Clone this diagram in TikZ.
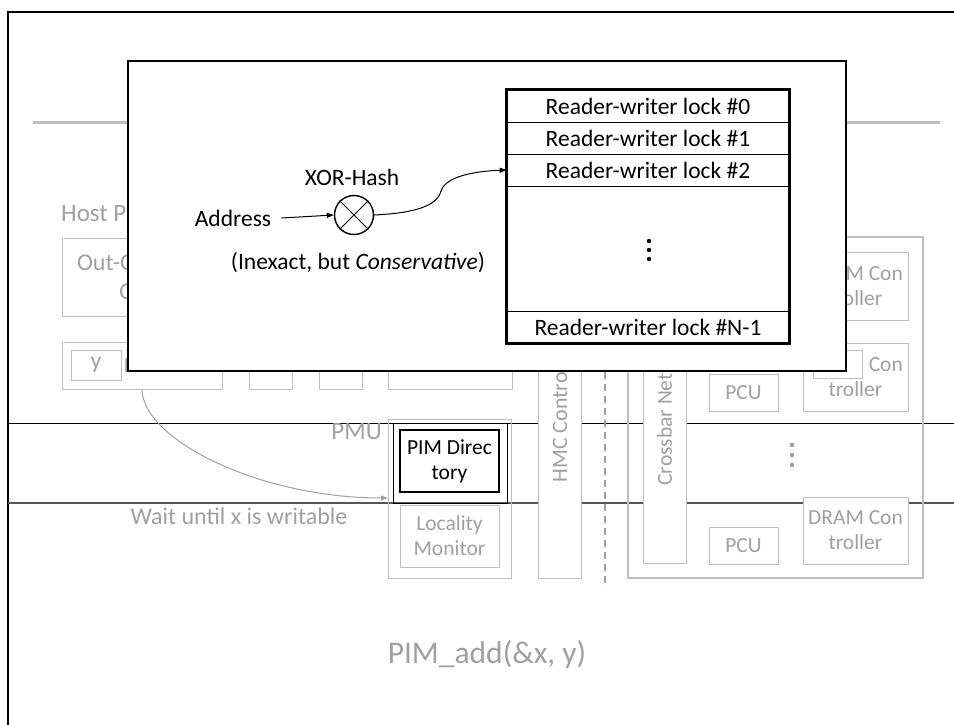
\documentclass[tikz,border=0pt]{standalone}
\usepackage{fontspec}
\setmainfont{Carlito}
\usetikzlibrary{arrows.meta, positioning, calc}
\definecolor{cGrayTxt}{RGB}{160,160,160}
\definecolor{cGrayLn}{RGB}{190,190,190}
\definecolor{cBand}{RGB}{85,85,85}
\tikzset{
	gbox/.style   ={rectangle, draw=cGrayLn, line width=1pt, fill=white, text=cGrayTxt, align=center, inner sep=0pt, font=\fontsize{21.5}{25}\selectfont},
	gtext/.style  ={text=cGrayTxt, inner sep=0pt, align=center, font=\fontsize{24}{29}\selectfont},
	btext/.style  ={text=black, inner sep=0pt, align=center, font=\fontsize{23.5}{28}\selectfont},
	lockrow/.style={rectangle, draw=black, line width=0.8pt, minimum width=282pt, inner sep=0pt, font=\fontsize{23.5}{28}\selectfont},
	xorc/.style   ={circle, draw=black, line width=1.4pt, minimum size=39pt, inner sep=0pt},
	ptr/.style    ={-{Triangle[length=7pt,width=5pt]}, line width=1pt},
}

\begin{document}
\begin{tikzpicture}[x=1pt, y=-1pt]
	\useasboundingbox (0,0) rectangle (954,725);
	% frame and host line
	\draw[line width=1.6pt] (8,725) -- (8,12) -- (954,12);
	\draw[cGrayLn, line width=3pt] (33,122) -- (940,122);
	% host processor (background)
	\node[gtext, anchor=west, font=\fontsize{25}{29}\selectfont] (hostlbl) at (61,214) {Host Processor};
	\node[gbox, minimum width=160pt, minimum height=78pt, font=\fontsize{24}{29}\selectfont] (ooo) at (142,277) {Out-Of-Order\\Core};
	\node[gbox, minimum width=160pt, minimum height=47pt] (hpcu) at (142,365.5) {PCU};
	\node[gbox, minimum width=50pt, minimum height=30pt, font=\fontsize{24}{29}\selectfont] (yreg) at (96,365) {y};
	\node[gbox, minimum width=43pt, minimum height=47pt] (hb1) at (270.5,365.5) {};
	\node[gbox, minimum width=43pt, minimum height=47pt] (hb2) at (340.5,365.5) {};
	\node[gbox, minimum width=124pt, minimum height=47pt] (hb3) at (450,365.5) {};
	% band around the PMU
	\draw[line width=0.8pt] (8,423) -- (954,423);
	\draw[cBand, line width=1.8pt] (8,503) -- (954,503);
	% PMU
	\node[gbox, fill=none, minimum width=123pt, minimum height=159pt] (pmu) at (449.5,498.5) {};
	\draw[line width=0.8pt] (393,423) rectangle (507,503);
	\node[gtext, anchor=east, font=\fontsize{25}{29}\selectfont] (pmulbl) at (382,432) {PMU};
	\node[gbox, draw=black, line width=1.2pt, text=black, minimum width=99pt, minimum height=62pt] (pimdir) at (449.5,461) {PIM Direc\\tory};
	\node[gbox, minimum width=99pt, minimum height=62pt] (locmon) at (449.5,536) {Locality\\Monitor};
	% HMC side
	\node[gbox, minimum width=43pt, minimum height=330pt] (hmc) at (559.5,413) {};
	\node[gtext, rotate=90, font=\fontsize{22}{26}\selectfont] at (hmc.center) {HMC Controller};
	\draw[cGrayTxt, line width=1.2pt, dash pattern=on 7pt off 5pt] (605,240) -- (605,588);
	\node[gbox, fill=none, line width=2pt, minimum width=295pt, minimum height=341pt] (vault) at (775.5,407.5) {};
	\node[gbox, minimum width=43pt, minimum height=311pt] (xbar) at (664.5,407.5) {};
	\node[gtext, rotate=90, font=\fontsize{21.5}{26}\selectfont] at (xbar.center) {Crossbar Network};
	\node[gbox, minimum width=69pt, minimum height=37pt] (pcua) at (743.5,392.5) {PCU};
	\node[gbox, minimum width=69pt, minimum height=37pt] (pcub) at (743.5,545.5) {PCU};
	\node[gbox, minimum width=105pt, minimum height=68pt] (drama) at (855.5,286) {DRAM Con\\troller};
	\node[gbox, minimum width=105pt, minimum height=68pt] (dramb) at (855.5,377) {DRAM Con\\troller};
	\node[gbox, minimum width=49pt, minimum height=28pt, font=\fontsize{24}{29}\selectfont] (xreg) at (837.5,364) {x};
	\node[gbox, minimum width=105pt, minimum height=67pt] (dramc) at (855.5,530.5) {DRAM Con\\troller};
	\foreach \d in {-10,0,10} \fill[cGrayTxt] (792,455+\d) circle (2.3pt);
	% wait arrow and call
	\draw[ptr, cGrayTxt] (hpcu.south) .. controls (143,440) and (260,498) .. (388,498);
	\node[gtext] (waitlbl) at (239,516) {Wait until x is writable};
	\node[gtext, font=\fontsize{31.5}{36}\selectfont] (call) at (487,655) {PIM\_add(\&x, y)};
	% pop-up: directory organisation
	\filldraw[fill=white, line width=2.5pt] (128,61) rectangle (846,371);
	\foreach \i/\yy in {0/106,1/138,2/170}
		\node[lockrow, minimum height=32pt] (lk\i) at (648,\yy) {Reader-writer lock \#\i};
	\node[lockrow, minimum height=125pt] (lkdots) at (648,248.5) {};
	\node[lockrow, minimum height=32pt] (lkN) at (648,327) {Reader-writer lock \#N-1};
	\draw[line width=2.5pt] (lk0.north west) rectangle (lkN.south east);
	\foreach \d in {-9,0,9} \fill (649,250+\d) circle (2.2pt);
	\node[xorc] (xor) at (354,215) {};
	\draw[line width=0.8pt] (xor.north east) -- (xor.south west) (xor.north west) -- (xor.south east);
	\node[btext] (xorlbl) at (352,177) {XOR-Hash};
	\node[btext] (addr) at (233,218) {Address};
	\node[btext] (note) at (358,263) {(Inexact, but \textit{Conservative})};
	\draw[ptr] (addr.east) ++(10pt,0) coordinate (addrout) (addrout) -- (xor.west);
	\draw[ptr] (xor.east) .. controls (415,213) and (437,206) .. (441,191) .. controls (446,175) and (480,171) .. (lk2.west);
\end{tikzpicture}
\end{document}
